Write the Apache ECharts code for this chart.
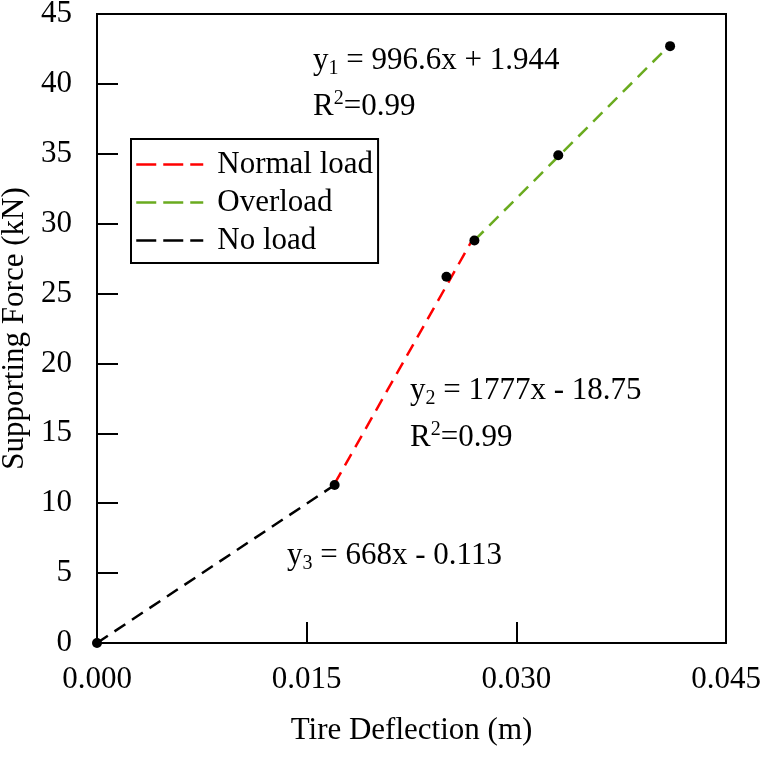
<!DOCTYPE html>
<html>
<head>
<meta charset="utf-8">
<script src="https://cdn.jsdelivr.net/npm/echarts@6/dist/echarts.min.js"></script>
<style>html,body{margin:0;padding:0;background:#fff}#c{width:762px;height:758px}</style>
</head>
<body>
<div id="c"></div>
<script>
// ---- data ----
const noLoadX = [0, 0.017];
const noLoadY = [0, 11.3];
const normalX = [0.017, 0.027];
const normalY = [11.4, 29.1];
const overX = [0.027, 0.041];
const overY = [28.8, 42.8];
const pointX = [0, 0.017, 0.025, 0.027, 0.033, 0.041];
const pointY = [0, 11.3, 26.2, 28.8, 34.9, 42.7];
const seriesNames = ['Normal load', 'Overload', 'No load'];
const eq1 = ['y', '1', ' = 996.6x + 1.944'];
const eq2 = ['y', '2', ' = 1777x - 18.75'];
const eq3 = ['y', '3', ' = 668x - 0.113'];
const r2 = ['R', '2', '=0.99'];

const FONT = '"Liberation Serif", "Times New Roman", serif';
const FS = 31;
const zip = (xs, ys) => xs.map((x, i) => [x, ys[i]]);

const rich = {
  a: { fontFamily: FONT, fontSize: FS, lineHeight: 36, fill: '#000', color: '#000' },
  sub: { fontFamily: FONT, fontSize: 20, lineHeight: 14, verticalAlign: 'bottom', fill: '#000', color: '#000' },
  sup: { fontFamily: FONT, fontSize: 20, lineHeight: 19, verticalAlign: 'top', fill: '#000', color: '#000' }
};
function subText(p) { return '{a|' + p[0] + '}{sub|' + p[1] + '}{a|' + p[2] + '}'; }
function supText(p) { return '{a|' + p[0] + '}{sup|' + p[1] + '}{a|' + p[2] + '}'; }
function txt(x, y, t) {
  return { type: 'text', left: x, top: y, z: 50, style: { text: t, rich: rich, font: FS + 'px ' + FONT, fill: '#000' } };
}

const lineBase = { type: 'line', symbol: 'none', z: 3 };
const chart = echarts.init(document.getElementById('c'), null, { renderer: 'canvas' });
chart.setOption({
  animation: false,
  backgroundColor: '#fff',
  grid: { left: 97, top: 14, right: 36, bottom: 115, show: true, borderColor: '#000', borderWidth: 2, containLabel: false, outerBoundsMode: 'none' },
  xAxis: {
    type: 'value', min: 0, max: 0.045, interval: 0.015,
    name: 'Tire Deflection (m)', nameLocation: 'middle', nameGap: 72,
    nameTextStyle: { fontFamily: FONT, fontSize: FS, color: '#000' },
    axisLine: { show: true, lineStyle: { color: '#000', width: 2 } },
    axisTick: { show: true, inside: true, length: 21, lineStyle: { color: '#000', width: 2 } },
    axisLabel: { margin: 21, fontFamily: FONT, fontSize: FS, color: '#000', formatter: v => v.toFixed(3) },
    splitLine: { show: false }
  },
  yAxis: {
    type: 'value', min: 0, max: 45, interval: 5,
    name: 'Supporting Force (kN)', nameLocation: 'middle', nameGap: 62, nameRotate: 90,
    nameTextStyle: { fontFamily: FONT, fontSize: FS, color: '#000' },
    axisLine: { show: true, lineStyle: { color: '#000', width: 2 } },
    axisTick: { show: true, inside: true, length: 21, lineStyle: { color: '#000', width: 2 } },
    axisLabel: { margin: 25, fontFamily: FONT, fontSize: FS, color: '#000' },
    splitLine: { show: false }
  },
  legend: {
    orient: 'vertical', left: 131, top: 139,
    data: seriesNames,
    itemWidth: 67, itemHeight: 14, itemGap: 7,
    padding: [10, 5, 7, 4],
    borderColor: '#000', borderWidth: 2, backgroundColor: '#fff',
    itemStyle: { opacity: 0 },
    lineStyle: { type: [20, 7], width: 2.5 },
    textStyle: { fontFamily: FONT, fontSize: FS, color: '#000', lineHeight: 29, padding: [0, 0, 0, 9] }
  },
  series: [
    Object.assign({}, lineBase, { name: seriesNames[0], data: zip(normalX, normalY), color: '#ff0000', lineStyle: { color: '#ff0000', width: 2.5, type: [13, 8] } }),
    Object.assign({}, lineBase, { name: seriesNames[1], data: zip(overX, overY), color: '#6aab1f', lineStyle: { color: '#6aab1f', width: 2.5, type: [13, 8] } }),
    Object.assign({}, lineBase, { name: seriesNames[2], data: zip(noLoadX, noLoadY), color: '#000', lineStyle: { color: '#000', width: 2.5, type: [13, 8] } }),
    { type: 'scatter', name: 'points', data: zip(pointX, pointY), symbol: 'circle', symbolSize: 10, itemStyle: { color: '#000', opacity: 1 }, z: 5 }
  ],
  graphic: [
    txt(313, 45, subText(eq1)),
    txt(313, 89, supText(r2)),
    txt(410, 375, subText(eq2)),
    txt(410, 420, supText(r2)),
    txt(287, 540, subText(eq3))
  ]
});
</script>
</body>
</html>
